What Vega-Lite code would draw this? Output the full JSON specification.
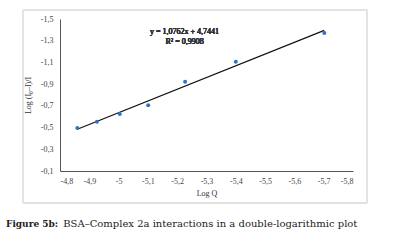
{
  "$schema": "https://vega.github.io/schema/vega-lite/v6.json",
  "width": 293,
  "height": 152,
  "autosize": "none",
  "padding": {"left": 60, "top": 19, "right": 54, "bottom": 72},
  "background": "white",
  "config": {
    "view": {"stroke": null},
    "font": "Liberation Serif",
    "locale": {"number": {"decimal": ",", "thousands": ".", "grouping": [3], "currency": ["", " €"], "minus": "-"}},
    "axis": {"labelFont": "Liberation Serif", "titleFont": "Liberation Serif", "labelColor": "#444", "titleColor": "#333", "titleFontWeight": "normal", "labelFontSize": 8, "titleFontSize": 8, "grid": false, "ticks": false, "domainColor": "#555", "domainWidth": 1, "labelOverlap": false, "tickCount": 20}
  },
  "title": {
    "text": "Figure 5b:",
    "subtitle": "\u200b\u00a0\u00a0\u00a0\u00a0\u00a0\u00a0\u00a0\u00a0\u00a0\u00a0\u00a0\u00a0\u00a0\u00a0\u00a0\u00a0\u00a0\u00a0BSA–Complex 2a interactions in a double-logarithmic plot",
    "orient": "bottom",
    "anchor": "start",
    "frame": "group",
    "dx": -54,
    "offset": 16,
    "font": "DejaVu Serif",
    "subtitleFont": "DejaVu Serif",
    "fontSize": 9,
    "subtitleFontSize": 10,
    "fontWeight": "bold",
    "subtitleFontWeight": "normal",
    "color": "#222",
    "subtitleColor": "#222",
    "subtitlePadding": -10
  },
  "data": {"values": [
    {"logQ": -4.859, "logI": -0.495},
    {"logQ": -4.926, "logI": -0.554},
    {"logQ": -5.004, "logI": -0.625},
    {"logQ": -5.101, "logI": -0.705},
    {"logQ": -5.227, "logI": -0.921},
    {"logQ": -5.400, "logI": -1.106},
    {"logQ": -5.702, "logI": -1.370}
  ]},
  "layer": [
    {
      "mark": {"type": "rect", "fill": null, "stroke": "#e3e3e3", "strokeWidth": 1, "clip": false},
      "encoding": {
        "x": {"datum": -4.674, "type": "quantitative",
          "scale": {"domain": [-5.8, -4.8], "reverse": true, "nice": false, "zero": false},
          "axis": {"title": "Log Q", "values": [-4.8, -4.9, -5, -5.1, -5.2, -5.3, -5.4, -5.5, -5.6, -5.7, -5.8], "tickCount": 20, "format": ".1~f", "labelPadding": 6, "titlePadding": 4, "labelOverlap": false}},
        "x2": {"datum": -5.848},
        "y": {"datum": -1.583, "type": "quantitative",
          "scale": {"domain": [-1.5, -0.1], "reverse": true, "nice": false, "zero": false},
          "axis": {"title": "Log (I₀–I)/I", "values": [-1.5, -1.3, -1.1, -0.9, -0.7, -0.5, -0.3, -0.1], "tickCount": 20, "format": ".1f", "labelPadding": 7, "titlePadding": 8, "labelOverlap": false}},
        "y2": {"datum": 0.195}
      }
    },
    {
      "transform": [{"regression": "logI", "on": "logQ", "method": "linear"}],
      "mark": {"type": "line", "color": "#111", "strokeWidth": 1.2},
      "encoding": {
        "x": {"field": "logQ", "type": "quantitative"},
        "y": {"field": "logI", "type": "quantitative"}
      }
    },
    {
      "mark": {"type": "point", "filled": true, "color": "#2e75c6", "size": 16, "opacity": 1},
      "encoding": {
        "x": {"field": "logQ", "type": "quantitative"},
        "y": {"field": "logI", "type": "quantitative"}
      }
    },
    {
      "mark": {"type": "text", "fontSize": 8, "font": "Liberation Serif", "fontWeight": "normal", "color": "#333", "baseline": "top", "align": "center", "lineHeight": 10},
      "encoding": {
        "x": {"datum": -5.225, "type": "quantitative"},
        "y": {"datum": -1.415, "type": "quantitative"},
        "text": {"value": ["y = 1,0762x + 4,7441", "R² = 0,9908"]}
      }
    }
  ]
}
